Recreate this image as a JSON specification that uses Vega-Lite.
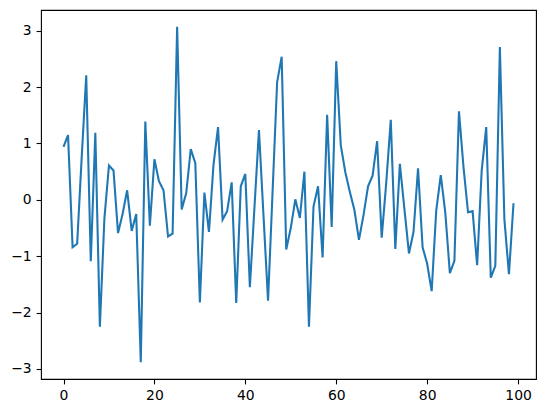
{
  "$schema": "https://vega.github.io/schema/vega-lite/v6.json",
  "autosize": "none",
  "width": 495,
  "height": 369,
  "padding": {"left": 41, "top": 10, "right": 10, "bottom": 34},
  "background": "white",
  "config": {
    "view": {"stroke": "black", "strokeWidth": 1.1},
    "axis": {
      "grid": false,
      "domain": false,
      "tickColor": "black",
      "tickWidth": 1.1,
      "tickSize": 4.9,
      "labelPadding": 4.9,
      "labelFont": "DejaVu Sans",
      "labelFontSize": 13.9,
      "labelColor": "black",
      "title": null
    }
  },
  "data": {"values": [
    {"i":0,"v":0.94},{"i":1,"v":1.15},{"i":2,"v":-0.84},{"i":3,"v":-0.78},{"i":4,"v":0.75},
    {"i":5,"v":2.21},{"i":6,"v":-1.09},{"i":7,"v":1.19},{"i":8,"v":-2.25},{"i":9,"v":-0.33},
    {"i":10,"v":0.61},{"i":11,"v":0.52},{"i":12,"v":-0.59},{"i":13,"v":-0.25},{"i":14,"v":0.17},
    {"i":15,"v":-0.55},{"i":16,"v":-0.25},{"i":17,"v":-2.88},{"i":18,"v":1.39},{"i":19,"v":-0.46},
    {"i":20,"v":0.72},{"i":21,"v":0.33},{"i":22,"v":0.17},{"i":23,"v":-0.65},{"i":24,"v":-0.6},
    {"i":25,"v":3.07},{"i":26,"v":-0.17},{"i":27,"v":0.12},{"i":28,"v":0.9},{"i":29,"v":0.65},
    {"i":30,"v":-1.82},{"i":31,"v":0.13},{"i":32,"v":-0.57},{"i":33,"v":0.62},{"i":34,"v":1.29},
    {"i":35,"v":-0.35},{"i":36,"v":-0.2},{"i":37,"v":0.31},{"i":38,"v":-1.83},{"i":39,"v":0.24},
    {"i":40,"v":0.46},{"i":41,"v":-1.55},{"i":42,"v":-0.15},{"i":43,"v":1.24},{"i":44,"v":-0.28},
    {"i":45,"v":-1.79},{"i":46,"v":0.15},{"i":47,"v":2.09},{"i":48,"v":2.54},{"i":49,"v":-0.88},
    {"i":50,"v":-0.5},{"i":51,"v":0.01},{"i":52,"v":-0.32},{"i":53,"v":0.5},{"i":54,"v":-2.25},
    {"i":55,"v":-0.12},{"i":56,"v":0.24},{"i":57,"v":-1.02},{"i":58,"v":1.51},{"i":59,"v":-0.48},
    {"i":60,"v":2.46},{"i":61,"v":0.97},{"i":62,"v":0.49},{"i":63,"v":0.14},{"i":64,"v":-0.18},
    {"i":65,"v":-0.71},{"i":66,"v":-0.27},{"i":67,"v":0.24},{"i":68,"v":0.43},{"i":69,"v":1.04},
    {"i":70,"v":-0.67},{"i":71,"v":0.3},{"i":72,"v":1.42},{"i":73,"v":-0.87},{"i":74,"v":0.64},
    {"i":75,"v":-0.16},{"i":76,"v":-0.95},{"i":77,"v":-0.57},{"i":78,"v":0.56},{"i":79,"v":-0.84},
    {"i":80,"v":-1.13},{"i":81,"v":-1.62},{"i":82,"v":-0.19},{"i":83,"v":0.44},{"i":84,"v":-0.23},
    {"i":85,"v":-1.3},{"i":86,"v":-1.08},{"i":87,"v":1.57},{"i":88,"v":0.58},{"i":89,"v":-0.22},
    {"i":90,"v":-0.2},{"i":91,"v":-1.16},{"i":92,"v":0.52},{"i":93,"v":1.29},{"i":94,"v":-1.38},
    {"i":95,"v":-1.17},{"i":96,"v":2.71},{"i":97,"v":-0.35},{"i":98,"v":-1.32},{"i":99,"v":-0.06}
  ]},
  "mark": {"type": "line", "color": "#1f77b4", "strokeWidth": 2.08, "clip": true},
  "encoding": {
    "x": {
      "field": "i", "type": "quantitative",
      "scale": {"domain": [-4.95, 103.95], "nice": false, "zero": false},
      "axis": {"values": [0, 20, 40, 60, 80, 100], "format": "d"}
    },
    "y": {
      "field": "v", "type": "quantitative",
      "scale": {"domain": [-3.1775, 3.3675], "nice": false, "zero": false},
      "axis": {"values": [-3, -2, -1, 0, 1, 2, 3], "format": "d"}
    }
  }
}
